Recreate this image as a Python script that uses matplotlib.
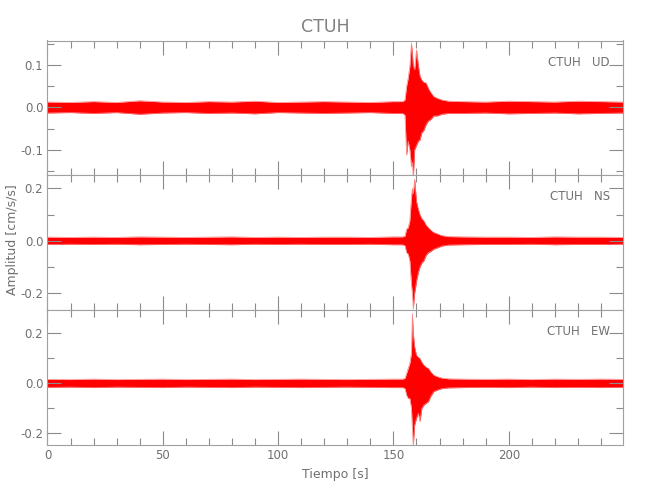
import numpy as np
import matplotlib
matplotlib.use("Agg")
import matplotlib.pyplot as plt
from matplotlib.ticker import MultipleLocator, FormatStrFormatter

station = "CTUH"
components = ["UD", "NS", "EW"]

# background noise (half width of the trace band), read every 10 s
t_pre = [0, 10, 20, 30, 40, 50, 60, 70, 80, 90, 100, 110, 120, 130, 140, 150]
t_post = [180, 190, 200, 210, 220, 230, 240, 249.4]
ud_pre = [0.013, 0.012, 0.014, 0.012, 0.016, 0.013, 0.012, 0.014, 0.013, 0.015, 0.012, 0.013, 0.014, 0.013, 0.012, 0.014]
ud_post = [0.014, 0.013, 0.015, 0.014, 0.013, 0.015, 0.014, 0.013]
ns_pre = [0.014, 0.013, 0.014, 0.013, 0.015, 0.014, 0.013, 0.014, 0.015, 0.013, 0.014, 0.013, 0.014, 0.014, 0.013, 0.015]
ns_post = [0.015, 0.014, 0.014, 0.013, 0.015, 0.014, 0.014, 0.013]
ew_pre = [0.016, 0.015, 0.017, 0.015, 0.016, 0.017, 0.015, 0.016, 0.017, 0.015, 0.016, 0.017, 0.016, 0.015, 0.016, 0.017]
ew_post = [0.017, 0.016, 0.017, 0.015, 0.017, 0.016, 0.017, 0.016]

# event envelope (upper / lower) around the arrival
t_ev = [154, 155, 155.7, 156.4, 157.1, 157.8, 158.2, 158.6, 159.2, 160.0, 160.8,
        161.5, 162.3, 163.2, 164.2, 165.2, 166.3, 167.5, 169, 171, 174]
ud_hi = [0.014, 0.018, 0.05, 0.07, 0.097, 0.153, 0.13, 0.1, 0.09, 0.137, 0.1,
         0.075, 0.065, 0.06, 0.058, 0.045, 0.035, 0.026, 0.022, 0.018, 0.015]
ud_lo = [-0.014, -0.018, -0.113, -0.08, -0.1, -0.141, -0.13, -0.17, -0.1, -0.09, -0.08,
         -0.077, -0.06, -0.054, -0.04, -0.032, -0.028, -0.02, -0.02, -0.016, -0.014]
ns_hi = [0.015, 0.018, 0.045, 0.05, 0.076, 0.165, 0.2, 0.18, 0.235, 0.15, 0.12,
         0.1, 0.085, 0.076, 0.06, 0.05, 0.04, 0.032, 0.027, 0.02, 0.016]
ns_lo = [-0.015, -0.018, -0.045, -0.05, -0.076, -0.165, -0.2, -0.26, -0.2, -0.155, -0.12,
         -0.1, -0.085, -0.076, -0.055, -0.045, -0.04, -0.032, -0.027, -0.02, -0.016]
ew_hi = [0.017, 0.02, 0.04, 0.06, 0.08, 0.12, 0.28, 0.2, 0.146, 0.113, 0.105,
         0.1, 0.085, 0.073, 0.065, 0.06, 0.045, 0.033, 0.027, 0.021, 0.018]
ew_lo = [-0.017, -0.02, -0.047, -0.06, -0.06, -0.1, -0.18, -0.25, -0.167, -0.139, -0.12,
         -0.153, -0.1, -0.087, -0.08, -0.073, -0.05, -0.033, -0.027, -0.021, -0.018]

ylims = [(-0.161, 0.159), (-0.265, 0.25), (-0.247, 0.293)]
ymajor = [0.1, 0.2, 0.2]
yminor = [0.05, 0.1, 0.1]

gray = "#8c8c8c"
txt = "#707070"
plt.rcParams["font.family"] = ["DejaVu Sans"]

fig = plt.figure(figsize=(6.5, 5), dpi=100)
fig.subplots_adjust(left=0.073, right=0.958, top=0.919, bottom=0.11, hspace=0)
axes = fig.subplots(3, 1, sharex=True)

series = [(ud_pre, ud_hi, ud_lo, ud_post),
          (ns_pre, ns_hi, ns_lo, ns_post),
          (ew_pre, ew_hi, ew_lo, ew_post)]

for i, ax in enumerate(axes):
    pre, hi, lo, post = series[i]
    t = np.concatenate([t_pre, t_ev, t_post])
    up = np.concatenate([pre, hi, post])
    dn = np.concatenate([-np.array(pre), lo, -np.array(post)])
    ax.fill_between(t, dn, up, color="red", lw=0, clip_on=False)
    ax.plot(t, up, color="#ff8080", lw=0.5, clip_on=False)
    ax.plot(t, dn, color="#ff8080", lw=0.5, clip_on=False)

    ax.set_xlim(0, 249.4)
    ax.set_ylim(*ylims[i])
    ax.xaxis.set_major_locator(MultipleLocator(50))
    ax.xaxis.set_minor_locator(MultipleLocator(10))
    ax.yaxis.set_major_locator(MultipleLocator(ymajor[i]))
    ax.yaxis.set_minor_locator(MultipleLocator(yminor[i]))
    ax.yaxis.set_major_formatter(FormatStrFormatter("%.1f"))
    ax.tick_params(which="both", direction="in", top=True, right=True,
                   color=gray, labelcolor=txt, labelsize=8.5, pad=3)
    ax.tick_params(which="major", length=10, width=0.8)
    ax.tick_params(which="minor", length=5, width=0.8)
    for s in ax.spines.values():
        s.set_color("#a0a0a0")
        s.set_linewidth(0.8)
    ax.text(0.978, 0.84, station + "   " + components[i], transform=ax.transAxes,
            ha="right", va="center", fontsize=8.5, color=txt)

axes[-1].set_xlabel("Tiempo [s]", fontsize=9, color=txt, labelpad=4)
fig.text(0.02, 0.52, "Amplitud [cm/s/s]", rotation=90, ha="center", va="center",
         fontsize=9, color=txt)
fig.suptitle(station, y=0.965, fontsize=12.5, color="#808080")

fig.savefig("out.png", dpi=100)
